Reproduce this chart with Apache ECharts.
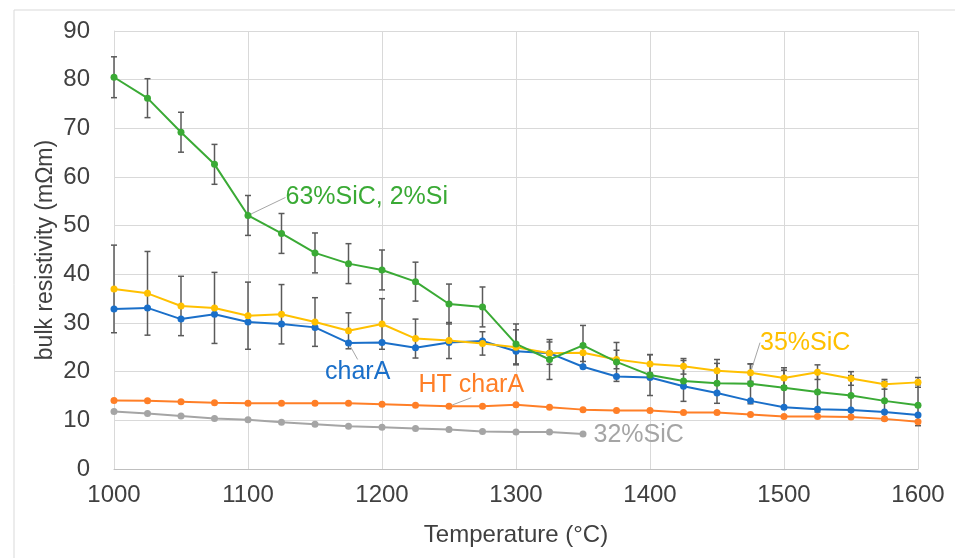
<!DOCTYPE html>
<html>
<head>
<meta charset="utf-8">
<title>bulk resistivity</title>
<script src="https://cdn.jsdelivr.net/npm/echarts@6/dist/echarts.min.js"></script>
<style>
    html, body { margin: 0; padding: 0; background: #fff; }
    #main { width: 955px; height: 558px; }
</style>
</head>
<body>
<div id="main"></div>
<script>
    // temperatures (°C)
    var temps = [1000, 1025, 1050, 1075, 1100, 1125, 1150, 1175, 1200, 1225, 1250, 1275, 1300,
                 1325, 1350, 1375, 1400, 1425, 1450, 1475, 1500, 1525, 1550, 1575, 1600];

    // bulk resistivity (mΩm)
    var sic63 = [80.5, 76.2, 69.2, 62.6, 52.1, 48.4, 44.4, 42.2, 40.9, 38.5, 33.9, 33.3, 25.7,
                 22.5, 25.4, 22.0, 19.3, 18.1, 17.6, 17.5, 16.7, 15.8, 15.1, 14.0, 13.1];
    var sic63Err = [4.2, 4.0, 4.1, 4.1, 4.1, 4.1, 4.1, 4.1, 4.1, 4.0, 4.1, 4.1, 4.1,
                    4.1, 4.1, 4.0, 4.2, 4.2, 4.1, 4.1, 4.1, 4.1, 4.1, 4.0, 4.2];
    var sic35 = [37.0, 36.1, 33.5, 33.1, 31.5, 31.8, 30.2, 28.4, 29.8, 26.8, 26.4, 25.8, 25.0,
                 23.8, 23.9, 22.5, 21.6, 21.1, 20.2, 19.8, 18.7, 19.9, 18.6, 17.4, 17.8];
    var sic35Err = [9.0, 8.6, 6.1, 7.3, 6.9, 6.1, 5.0, 3.7, 5.2, 4.0, 3.7, 2.4, 3.6,
                    2.3, 1.8, 1.9, 1.9, 1.6, 2.3, 1.8, 1.6, 1.5, 1.4, 1.0, 1.0];
    var charA = [32.9, 33.1, 30.8, 31.8, 30.2, 29.8, 29.1, 25.9, 26.0, 24.9, 26.0, 26.3, 24.2,
                 23.8, 21.0, 19.0, 18.8, 17.0, 15.6, 14.0, 12.7, 12.3, 12.1, 11.7, 11.1];
    var htCharA = [14.1, 14.0, 13.8, 13.6, 13.5, 13.5, 13.5, 13.5, 13.3, 13.1, 12.9, 12.9, 13.2,
                   12.7, 12.2, 12.0, 12.0, 11.6, 11.6, 11.2, 10.8, 10.8, 10.7, 10.3, 9.7];
    var sic32 = [11.8, 11.4, 10.9, 10.4, 10.1, 9.6, 9.2, 8.8, 8.6, 8.3, 8.1, 7.7, 7.6, 7.6, 7.2];

    var FONT = "'Liberation Sans', Arial, sans-serif";

    function pairs(vals, labelIdx) {
        return vals.map(function (v, i) {
            if (i === labelIdx) {
                return { value: [temps[i], v], label: { show: true } };
            }
            return [temps[i], v];
        });
    }

    function errData(vals, errs) {
        return vals.map(function (v, i) {
            return [temps[i], v - errs[i], v + errs[i]];
        });
    }

    function renderErr(params, api) {
        var lo = api.coord([api.value(0), api.value(1)]);
        var hi = api.coord([api.value(0), api.value(2)]);
        var w = 3;
        var style = { stroke: '#5a5a5a', lineWidth: 1.5 };
        return {
            type: 'group',
            children: [
                { type: 'line', shape: { x1: lo[0], y1: lo[1], x2: hi[0], y2: hi[1] }, style: style },
                { type: 'line', shape: { x1: lo[0] - w, y1: lo[1], x2: lo[0] + w, y2: lo[1] }, style: style },
                { type: 'line', shape: { x1: hi[0] - w, y1: hi[1], x2: hi[0] + w, y2: hi[1] }, style: style }
            ]
        };
    }

    function lineSeries(name, color, vals, labelIdx, dx, dy, leader) {
        return {
            name: name,
            type: 'line',
            z: 3,
            symbol: 'circle',
            symbolSize: 7,
            lineStyle: { color: color, width: 2 },
            itemStyle: { color: color },
            label: {
                show: false,
                position: 'right',
                distance: 0,
                formatter: name,
                color: color,
                fontSize: 25,
                fontFamily: FONT
            },
            labelLayout: { dx: dx, dy: dy },
            labelLine: {
                show: leader,
                lineStyle: { color: '#a6a6a6', width: 1 }
            },
            data: pairs(vals, labelIdx)
        };
    }

    var myChart = echarts.init(document.getElementById('main'));

    var option = {
        animation: false,
        backgroundColor: '#fff',
        textStyle: { fontFamily: FONT },
        graphic: [{
            type: 'rect',
            shape: { x: 14, y: 10, width: 960, height: 570 },
            style: { fill: 'none', stroke: '#d9d9d9', lineWidth: 1 },
            silent: true
        }],
        grid: { left: 114, right: 37, top: 31, bottom: 89 },
        xAxis: {
            type: 'value',
            min: 1000,
            max: 1600,
            interval: 100,
            name: 'Temperature (°C)',
            nameLocation: 'middle',
            nameGap: 54,
            nameMoveOverlap: false,
            nameTextStyle: { fontSize: 24, color: '#404040', fontFamily: FONT },
            axisLine: { lineStyle: { color: '#bfbfbf', width: 1 } },
            axisTick: { show: false },
            axisLabel: {
                fontSize: 24, color: '#404040', margin: 14, fontFamily: FONT,
                formatter: function (v) { return String(v); }
            },
            splitLine: { show: true, lineStyle: { color: '#d9d9d9', width: 1 } }
        },
        yAxis: {
            type: 'value',
            min: 0,
            max: 90,
            interval: 10,
            name: 'bulk resistivity (mΩm)',
            nameLocation: 'middle',
            nameGap: 57,
            nameMoveOverlap: false,
            nameTextStyle: { fontSize: 23, color: '#404040', fontFamily: FONT },
            axisLine: { show: true, lineStyle: { color: '#d9d9d9', width: 1 } },
            axisTick: { show: false },
            axisLabel: { fontSize: 24, color: '#404040', margin: 24, fontFamily: FONT },
            splitLine: { show: true, lineStyle: { color: '#d9d9d9', width: 1 } }
        },
        series: [
            {
                type: 'custom',
                z: 1,
                renderItem: renderErr,
                data: errData(sic35, sic35Err)
            },
            {
                type: 'custom',
                z: 1,
                renderItem: renderErr,
                data: errData(sic63, sic63Err)
            },
            lineSeries('32%SiC', '#a5a5a5', sic32, 14, 7, 1, false),
            lineSeries('HT charA', '#ff7f27', htCharA, 10, -34, -21, true),
            lineSeries('charA', '#1a6fc9', charA, 7, -27, 29, true),
            lineSeries('35%SiC', '#ffc000', sic35, 19, 6, -30, true),
            lineSeries('63%SiC, 2%Si', '#3aaa35', sic63, 4, 34, -18, true)
        ]
    };

    myChart.setOption(option);
</script>
</body>
</html>
